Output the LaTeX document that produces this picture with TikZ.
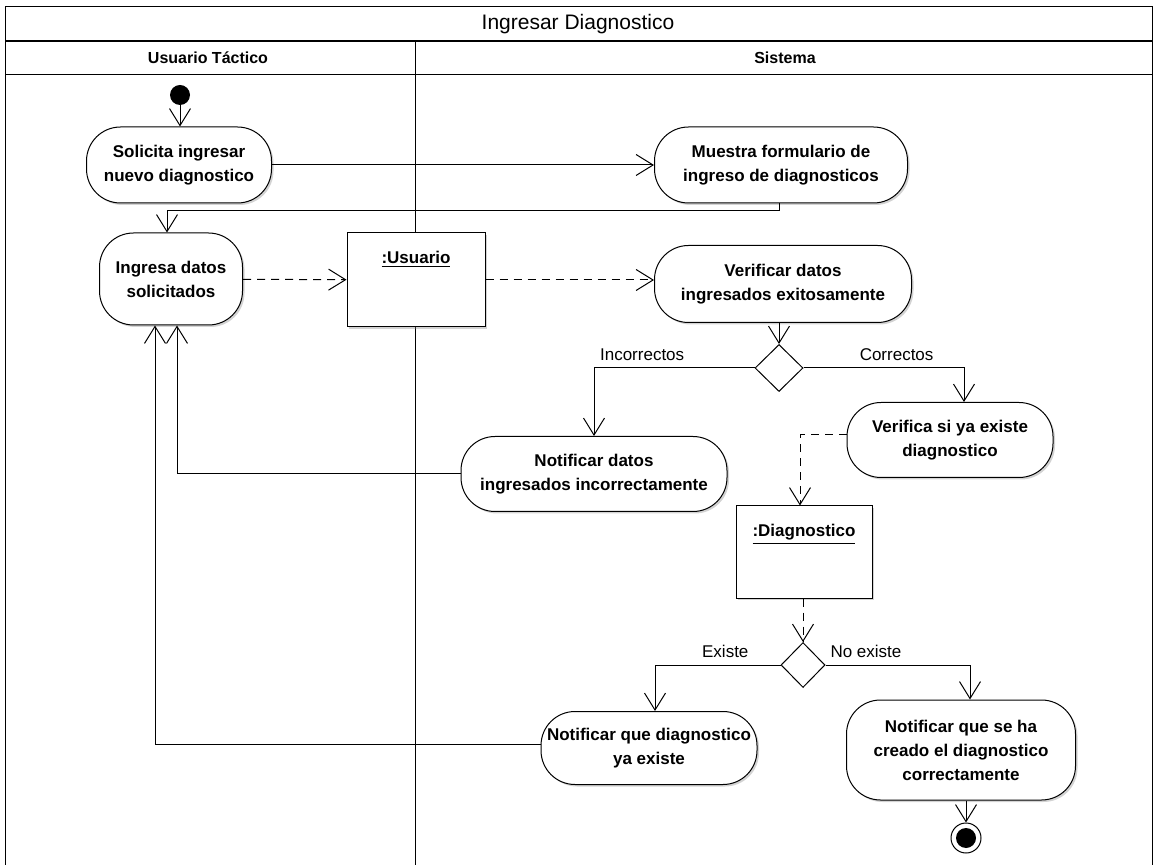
\documentclass[tikz,border=0pt]{standalone}
\usepackage{fontspec}
\setmainfont{Liberation Sans}
\usetikzlibrary{arrows.meta,shapes.geometric,shadows}

\begin{document}
\begin{tikzpicture}[x=0.5pt, y=-0.5pt,
    activity/.style={draw, rounded corners=17pt, align=center, fill=white, inner sep=0pt, line width=0.5pt,
        font=\bfseries\fontsize{8.5}{12}\selectfont, drop shadow={shadow xshift=1pt, shadow yshift=-1pt, opacity=0.35}},
    objbox/.style={draw, fill=white, inner sep=0pt, line width=0.5pt,
        drop shadow={shadow xshift=1pt, shadow yshift=-1pt, opacity=0.35}},
    objname/.style={anchor=north, yshift=-6pt, font=\bfseries\fontsize{8.5}{12}\selectfont},
    decision/.style={draw, diamond, fill=white, inner sep=0pt, line width=0.5pt},
    guard/.style={font=\fontsize{8.5}{10}\selectfont},
    lane/.style={font=\bfseries\fontsize{8}{10}\selectfont},
    flow/.style={-{Straight Barb[length=8.5pt,width=10.5pt]}, line width=0.5pt},
    objflow/.style={flow, dash pattern=on 4pt off 3pt}]

    \useasboundingbox (0,0) rectangle (1156,865);

    % marco y carriles
    \draw[line width=0.5pt] (5,865) -- (5,7) -- (1152,7) -- (1152,865);
    \draw[line width=1pt] (5,41) -- (1152,41);
    \draw[line width=0.5pt] (5,75) -- (1152,75);
    \draw[line width=0.5pt] (415,41) -- (415,865);
    \node (titulo) at (578,24) {\fontsize{10.5}{12}\selectfont Ingresar Diagnostico};
    \node (carrilusuario) [lane] at (208,58) {Usuario Táctico};
    \node (carrilsistema) [lane] at (785,58) {Sistema};

    % nodos
    \node (inicio) [circle, fill=black, minimum size=10pt, inner sep=0pt] at (180,95) {};
    \node (solicita) [activity, minimum width=92.5pt, minimum height=38pt] at (179,165) {Solicita ingresar\\nuevo diagnostico};
    \node (muestra) [activity, minimum width=126.5pt, minimum height=38pt] at (781,165) {Muestra formulario de\\ingreso de diagnosticos};
    \node (ingresa) [activity, minimum width=71.5pt, minimum height=46pt] at (171,279) {Ingresa datos\\solicitados};
    \node (usuario) [objbox, minimum width=69pt, minimum height=47pt,
        label={[objname, name=usuariotxt]north:\underline{:Usuario}}] at (416,280) {};
    \node (verificar) [activity, minimum width=128.5pt, minimum height=38.5pt] at (783,284) {Verificar datos\\ingresados exitosamente};
    \node (decision1) [decision, minimum width=24pt, minimum height=23.5pt] at (779,368) {};
    \node (notifdatos) [activity, minimum width=133pt, minimum height=37.5pt] at (594,474) {Notificar datos\\ingresados incorrectamente};
    \node (verifica) [activity, minimum width=103pt, minimum height=37.5pt] at (950,440) {Verifica si ya existe\\diagnostico};
    \node (diagnostico) [objbox, minimum width=68pt, minimum height=46pt,
        label={[objname, name=diagnosticotxt]north:\underline{:Diagnostico}}] at (804,552) {};
    \node (decision2) [decision, minimum width=22pt, minimum height=22.5pt] at (803,665) {};
    \node (notifexiste) [activity, minimum width=108pt, minimum height=36.5pt] at (649,748) {Notificar que diagnostico\\ya existe};
    \node (notifcreado) [activity, minimum width=114.5pt, minimum height=50pt] at (961,750) {Notificar que se ha\\creado el diagnostico\\correctamente};
    \node (final) [circle, draw, fill=white, line width=0.5pt, minimum size=15pt, inner sep=0pt] at (966,838) {};
    \node (finalcentro) [circle, fill=black, minimum size=10pt, inner sep=0pt] at (final) {};

    % flujos
    \draw[flow] (inicio) -- (inicio |- solicita.north);
    \draw[flow] (solicita) -- (muestra);
    \draw[flow] ([xshift=-1pt]muestra.south) -- ++(0,7) -| ([xshift=-2pt]ingresa.north);
    \draw[objflow] (ingresa) -- (usuario);
    \draw[objflow] (usuario.east) -- (usuario.east -| verificar.west);
    \draw[flow] (verificar.south -| decision1) -- (decision1.north);
    \draw[flow] (decision1.west) -| node[guard, above, pos=0.35] (lblincorrectos) {Incorrectos} (notifdatos.north);
    \draw[flow] (decision1.east) -| node[guard, above, pos=0.29] (lblcorrectos) {Correctos} ([xshift=7pt]verifica.north);
    \draw[flow] (notifdatos.west) -| ([xshift=3pt]ingresa.south);
    \draw[objflow] ([yshift=2.5pt]verifica.west) -| ([xshift=-2pt]diagnostico.north);
    \draw[objflow] (diagnostico.south -| decision2) -- (decision2.north);
    \draw[flow] (decision2.west) -| node[guard, above, pos=0.22] (lblexiste) {Existe} ([xshift=3pt]notifexiste.north);
    \draw[flow] (decision2.east) -| node[guard, above, pos=0.14] (lblnoexiste) {No existe} ([xshift=4.5pt]notifcreado.north);
    \draw[flow] ([yshift=2pt]notifexiste.west) -| ([xshift=-8pt]ingresa.south);
    \draw[flow] (final |- notifcreado.south) -- (final);
\end{tikzpicture}
\end{document}
